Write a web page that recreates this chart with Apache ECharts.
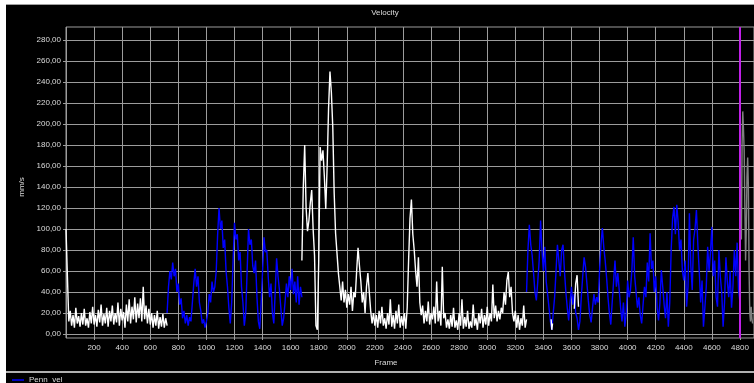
<!DOCTYPE html>
<html>
<head>
<meta charset="utf-8">
<title>Velocity</title>
<script src="https://cdn.jsdelivr.net/npm/echarts@6/dist/echarts.min.js"></script>
<style>
  html, body { margin: 0; padding: 0; background: #fff; }
  #chart { width: 754px; height: 383px; }
</style>
</head>
<body>
<div id="chart"></div>
<script>
// axis ranges (frames / mm/s)
const frameMin = 0, frameMax = 4900, frameStep = 200
const velMin = 0, velMax = 280, velStep = 20
const cursorFrame = 4802

// samples, every 10 frames unless noted
const whiteA = [ // frames 0 - 720
  100, 55, 12, 22, 8, 18, 6, 25, 10, 17,
  7, 20, 9, 24, 8, 15, 6, 21, 10, 26,
  9, 18, 7, 23, 11, 28, 8, 19, 10, 25,
  7, 22, 12, 27, 9, 20, 11, 30, 8, 24,
  13, 21, 6, 28, 12, 33, 10, 26, 14, 35,
  11, 29, 15, 34, 12, 45, 14, 27, 10, 24,
  9, 20, 6, 18, 8, 22, 5, 16, 7, 19,
  6, 15, 8
]
const blueA = [ // frames 720 - 1680
  20, 45, 60, 52, 68, 55, 62, 40,
  48, 28, 34, 15, 22, 10, 18, 8, 16, 12,
  30, 48, 62, 45, 55, 30, 22, 10, 14, 6,
  12, 20, 38, 30, 50, 40, 45, 60, 95, 120,
  100, 108, 82, 90, 60, 45, 25, 10, 30, 70,
  106, 90, 95, 70, 78, 45, 30, 8, 20, 60,
  100, 85, 90, 65, 58, 70, 35, 12, 5, 30,
  60, 92, 78, 80, 55, 35, 48, 20, 10, 40,
  72, 55, 42, 25, 8, 15, 30, 48, 35, 55,
  42, 62, 38, 50, 30, 55, 28, 45, 35
]
const whiteB = [ // frames 1680 - 3280
  70, 140, 180, 120, 98, 108, 125, 137, 100, 75,
  8, 4, 70, 178, 165, 175, 150, 119, 160, 215,
  250, 230, 197, 134, 96, 77, 58, 45, 32, 50,
  30, 42, 25, 38, 28, 45, 22, 40, 35, 60,
  82, 65, 50, 30, 40, 20, 45, 58, 40, 22,
  10, 20, 8, 18, 6, 22, 10, 26, 8, 15,
  5, 20, 9, 33, 7, 18, 5, 22, 10, 28,
  6, 17, 8, 20, 5, 25, 70, 110, 128, 95,
  80, 60, 45, 73, 30, 18, 27, 10, 22, 12,
  31, 9, 20, 14, 26, 10, 50, 12, 22, 8,
  64, 15, 20, 6, 14, 5, 18, 7, 25, 6,
  13, 4, 20, 8, 33, 5, 16, 7, 22, 5,
  12, 6, 28, 8, 15, 4, 20, 10, 24, 6,
  18, 9, 26, 8, 20, 12, 47, 15, 27, 12,
  22, 14, 25, 20, 40, 28, 51, 59, 35, 45,
  20, 12, 22, 6, 18, 4, 15, 8, 27, 6,
  14
]
const blueB = [ // frames 3280 - 4800
  40, 80,
  104, 85, 75, 58, 40, 32, 50, 70, 108, 80,
  60, 83, 50, 38, 25, 12, 4, 20, 35, 60,
  85, 70, 55, 80, 85, 60, 40, 25, 13, 30,
  45, 28, 38, 20, 15, 4, 12, 35, 55, 73,
  64, 48, 32, 18, 11, 25, 38, 28, 35, 30,
  60, 85, 101, 83, 70, 54, 35, 20, 9, 30,
  50, 70, 45, 58, 42, 25, 12, 30, 7, 20,
  51, 35, 42, 60, 92, 55, 40, 25, 35, 18,
  10, 28, 45, 35, 68, 50, 96, 62, 70, 40,
  55, 25, 13, 30, 61, 45, 28, 15, 40, 7,
  30, 80, 110, 121, 95, 123, 106, 80, 90, 60,
  51, 70, 26, 45, 115, 65, 42, 90, 100, 118,
  85, 60, 30, 51, 7, 25, 45, 83, 60, 78,
  102, 55, 70, 35, 26, 80, 55, 40, 7, 30,
  73, 50, 35, 60, 25, 45, 80, 55, 87, 42,
  30
]
const whiteC = [14, 4, 10]          // frames 3455 - 3465, every 5
const whiteD = [24, 48, 56, 26]     // frames 3620 - 3650
const greyA = [90, 180, 212, 195, 175, 120, 70, 100, 150, 168, 140, 60, 20, 12, 26, 15, 10] // 4810 -, every 5

const toPoints = (start, step, vals) => vals.map((v, i) => [start + i * step, v])

const gridColor = '#9c9c9c'
const textColor = '#dcdcdc'
const font = 'Liberation Sans'

const line = (name, color, data) => ({
  type: 'line',
  name,
  xAxisIndex: 1,
  yAxisIndex: 1,
  data,
  symbol: 'none',
  showSymbol: false,
  silent: true,
  animation: false,
  lineStyle: { color, width: 1.4 },
  itemStyle: { color },
  z: 3
})

const chart = echarts.init(document.getElementById('chart'))

const option = {
  backgroundColor: '#000',
  animation: false,
  textStyle: { fontFamily: font },
  title: [
    { text: 'Velocity', left: 385, top: 9, textAlign: 'center', padding: 0,
      textStyle: { color: textColor, fontSize: 8, fontWeight: 'normal', fontFamily: font } },
    { text: 'Frame', left: 386, top: 359, textAlign: 'center', padding: 0,
      textStyle: { color: textColor, fontSize: 8, fontWeight: 'normal', fontFamily: font } }
  ],
  legend: {
    data: ['Penn_vel'],
    left: 12,
    top: 376,
    padding: 0,
    icon: 'rect',
    itemWidth: 12,
    itemHeight: 1.5,
    textStyle: { color: textColor, fontSize: 8, fontFamily: font }
  },
  grid: [
    { left: 66, top: 27, right: 0, bottom: 45, show: true,
      borderColor: gridColor, borderWidth: 1, backgroundColor: 'transparent' },
    { left: 66, top: 40, right: 0, bottom: 49 }
  ],
  xAxis: [
    {
      type: 'value', gridIndex: 0,
      min: frameMin, max: frameMax, interval: frameStep,
      axisLine: { show: false },
      axisTick: { show: true, length: 2, lineStyle: { color: gridColor } },
      splitLine: { show: true, lineStyle: { color: gridColor, width: 1 } },
      axisLabel: { color: textColor, fontSize: 8, margin: 6, fontFamily: font,
        showMinLabel: false, showMaxLabel: false,
        formatter: v => String(v) }
    },
    {
      type: 'value', gridIndex: 1,
      min: frameMin, max: frameMax, show: false
    }
  ],
  yAxis: [
    { type: 'value', gridIndex: 0, min: 0, max: 1, show: false },
    {
      type: 'value', gridIndex: 1,
      min: velMin, max: velMax, interval: velStep,
      name: 'mm/s', nameLocation: 'middle', nameGap: 9, nameRotate: 90,
      nameTextStyle: { color: textColor, fontSize: 8, fontFamily: font },
      axisLine: { show: false },
      axisTick: { show: true, length: 3, lineStyle: { color: gridColor } },
      splitLine: { show: true, lineStyle: { color: gridColor, width: 1 } },
      axisLabel: {
        color: textColor, fontSize: 8, margin: 5, fontFamily: font,
        formatter: v => v.toFixed(2).replace('.', ',')
      }
    }
  ],
  series: [
    line('white', '#ffffff', toPoints(0, 10, whiteA)),
    line('Penn_vel', '#0000ff', toPoints(720, 10, blueA)),
    line('white', '#ffffff', toPoints(1680, 10, whiteB)),
    line('Penn_vel', '#0000ff', toPoints(3280, 10, blueB)),
    line('white', '#ffffff', toPoints(3455, 5, whiteC)),
    line('white', '#ffffff', toPoints(3620, 10, whiteD)),
    line('grey', '#808080', toPoints(4810, 5, greyA)),
    {
      type: 'line', name: 'cursor', xAxisIndex: 0, yAxisIndex: 0,
      data: [[cursorFrame, 0]], symbol: 'none', silent: true,
      lineStyle: { opacity: 0 },
      markLine: {
        silent: true, symbol: 'none', animation: false,
        label: { show: false },
        lineStyle: { color: '#c020e8', width: 2, type: 'solid' },
        data: [{ xAxis: cursorFrame }]
      },
      z: 4
    }
  ],
  graphic: [
    { type: 'rect', shape: { x: 0, y: 0, width: 754, height: 4 }, style: { fill: '#fff' }, z: 10 },
    { type: 'rect', shape: { x: 0, y: 0, width: 6, height: 383 }, style: { fill: '#fff' }, z: 10 },
    { type: 'line', shape: { x1: 6, y1: 4.5, x2: 754, y2: 4.5 }, style: { stroke: '#a0a0a0', lineWidth: 1 }, z: 10 },
    { type: 'line', shape: { x1: 6, y1: 372, x2: 754, y2: 372 }, style: { stroke: '#b0b0b0', lineWidth: 2 }, z: 10 }
  ]
}

chart.setOption(option)
window.addEventListener('resize', () => chart.resize())
</script>
</body>
</html>
